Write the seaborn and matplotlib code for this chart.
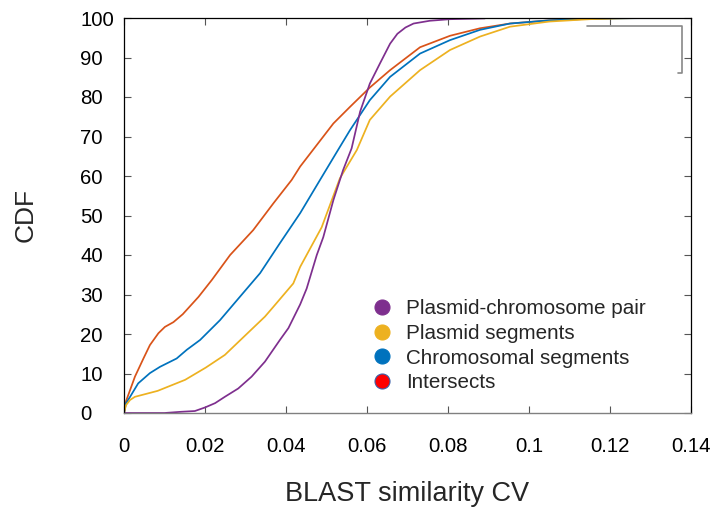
import numpy as np
import pandas as pd
import matplotlib
matplotlib.use("Agg")
import matplotlib.pyplot as plt
from matplotlib.lines import Line2D
import seaborn as sns

# ---------------- data ----------------
series_names = ["Plasmid-chromosome pair", "Plasmid segments",
                "Chromosomal segments", "Intersects"]

pair_x = [0, 0.01, 0.014, 0.0175, 0.02, 0.0225, 0.0249, 0.0282, 0.0315, 0.0348,
          0.0385, 0.0406, 0.0435, 0.0451, 0.0476, 0.0492, 0.0517, 0.0541, 0.0562,
          0.0583, 0.0607, 0.0632, 0.0657, 0.0675, 0.0695, 0.0715, 0.0755, 0.0805, 0.0891]
pair_y = [0, 0, 0.3, 0.5, 1.4, 2.5, 4.1, 6.2, 9.2, 13,
          18.5, 21.5, 27.5, 31.5, 40, 44.5, 53.9, 61.5, 67,
          76.3, 83.4, 88.5, 93.5, 96, 97.6, 98.6, 99.3, 99.7, 99.9]

plas_x = [0, 0.0005, 0.0015, 0.0027, 0.0083, 0.0151, 0.0202, 0.0249, 0.0301, 0.0348,
          0.0369, 0.0418, 0.0435, 0.0488, 0.0533, 0.0575, 0.0607, 0.0657, 0.0731,
          0.0805, 0.0879, 0.0953, 0.105, 0.115, 0.122, 0.128]
plas_y = [0, 2, 3.3, 4.1, 5.6, 8.4, 11.5, 14.7, 19.8, 24.4,
          26.9, 32.8, 37, 47, 59.4, 66.6, 74.2, 80.1, 86.8,
          91.9, 95.3, 97.8, 99.1, 99.7, 99.9, 100]

chrom_x = [0, 0.0005, 0.0015, 0.0035, 0.0064, 0.0089, 0.013, 0.0155, 0.0188, 0.0237,
           0.0286, 0.0336, 0.0385, 0.0435, 0.0484, 0.0525, 0.0558, 0.0607, 0.0657,
           0.0731, 0.0805, 0.0879, 0.0953, 0.105, 0.115, 0.125, 0.1313]
chrom_y = [0, 2.5, 4.1, 7.5, 10.1, 11.7, 13.8, 16, 18.5, 23.5,
           29.4, 35.4, 43, 50.6, 59, 66, 71.6, 79.2, 85.1,
           91, 94.4, 97, 98.6, 99.4, 99.8, 99.95, 100]

inter_x = [0, 0.0005, 0.0015, 0.0027, 0.0048, 0.0064, 0.0085, 0.0101, 0.0122, 0.0145,
           0.0184, 0.0217, 0.0262, 0.0319, 0.0369, 0.0414, 0.0435, 0.0517, 0.0558,
           0.0607, 0.0657, 0.0731, 0.0805, 0.0879, 0.0953, 0.105, 0.115, 0.122]
inter_y = [0, 3, 5.8, 9.2, 13.8, 17.2, 20.2, 21.8, 23, 25,
           29.4, 33.7, 40, 46.3, 53.1, 59, 62.4, 73.3, 77.5,
           82.4, 86.8, 92.6, 95.5, 97.4, 98.6, 99.4, 99.8, 100]

x_ticks = [0, 0.02, 0.04, 0.06, 0.08, 0.1, 0.12, 0.14]
x_tick_labels = ["0", "0.02", "0.04", "0.06", "0.08", "0.1", "0.12", "0.14"]
y_ticks = [0, 10, 20, 30, 40, 50, 60, 70, 80, 90, 100]
y_tick_labels = ["0", "10", "20", "30", "40", "50", "60", "70", "80", "90", "100"]

# ---------------- styling ----------------
colors = {"Plasmid-chromosome pair": "#7E2F8E",
          "Plasmid segments": "#EDB120",
          "Chromosomal segments": "#0072BD",
          "Intersects": "#D95319"}
legend_face = {"Plasmid-chromosome pair": "#7E2F8E",
               "Plasmid segments": "#EDB120",
               "Chromosomal segments": "#0072BD",
               "Intersects": "#FF0000"}

sns.set_style("ticks")
plt.rcParams["font.family"] = ["Liberation Sans", "DejaVu Sans"]

frames = []
for name, xs, ys in [("Intersects", inter_x, inter_y),
                     ("Chromosomal segments", chrom_x, chrom_y),
                     ("Plasmid segments", plas_x, plas_y),
                     ("Plasmid-chromosome pair", pair_x, pair_y)]:
    frames.append(pd.DataFrame({"x": xs, "cdf": ys, "series": name}))
df = pd.concat(frames, ignore_index=True)

W, H = 713, 508
fig = plt.figure(figsize=(W / 100, H / 100), dpi=100)
ax = fig.add_axes([124 / W, 1 - 413 / H, (691 - 124) / W, (413 - 18) / H])

sns.lineplot(data=df, x="x", y="cdf", hue="series",
             hue_order=["Intersects", "Chromosomal segments",
                        "Plasmid segments", "Plasmid-chromosome pair"],
             palette=colors, sort=False, estimator=None, legend=False,
             linewidth=1.25, ax=ax)

ax.set_xlim(0, 0.14)
ax.set_ylim(0, 100)
ax.set_xticks(x_ticks)
ax.set_xticklabels(x_tick_labels)
ax.set_yticks(y_ticks)
ax.set_yticklabels(y_tick_labels)

ax.tick_params(direction="in", length=5, width=0.8, top=True, right=True,
               color="#555555", labelcolor="black", labelsize=14.7)
ax.tick_params(axis="x", pad=17.5)
ax.tick_params(axis="y", pad=31.5)
for lab in ax.get_yticklabels():
    lab.set_horizontalalignment("left")

for side in ["left", "top", "right"]:
    ax.spines[side].set_color("black")
    ax.spines[side].set_linewidth(0.9)
ax.spines["bottom"].set_color("#808080")
ax.spines["bottom"].set_linewidth(1.0)

ax.set_xlabel("BLAST similarity CV", fontsize=19.5, labelpad=18)
ax.set_ylabel("CDF", fontsize=19, labelpad=31)

# bracket decoration at top right
ax.plot([0.8166, 0.9841, 0.9841, 0.977], [0.9797, 0.9797, 0.8615, 0.8615],
        transform=ax.transAxes, color="#888888", lw=1.2, clip_on=False)

handles = []
for name in series_names:
    edge = "#3a5fa8" if name == "Intersects" else legend_face[name]
    handles.append(Line2D([], [], linestyle="", marker="o", markersize=10.8,
                          markerfacecolor=legend_face[name],
                          markeredgecolor=edge, markeredgewidth=0.8))
fig.legend(handles, series_names, loc="upper left",
           bbox_to_anchor=(371.4 / W, 1 - 299.5 / H), frameon=False,
           fontsize=14.9, handlelength=1.0, handletextpad=0.66,
           labelspacing=0.27, borderpad=0, borderaxespad=0)

fig.savefig("out.png", dpi=100)
